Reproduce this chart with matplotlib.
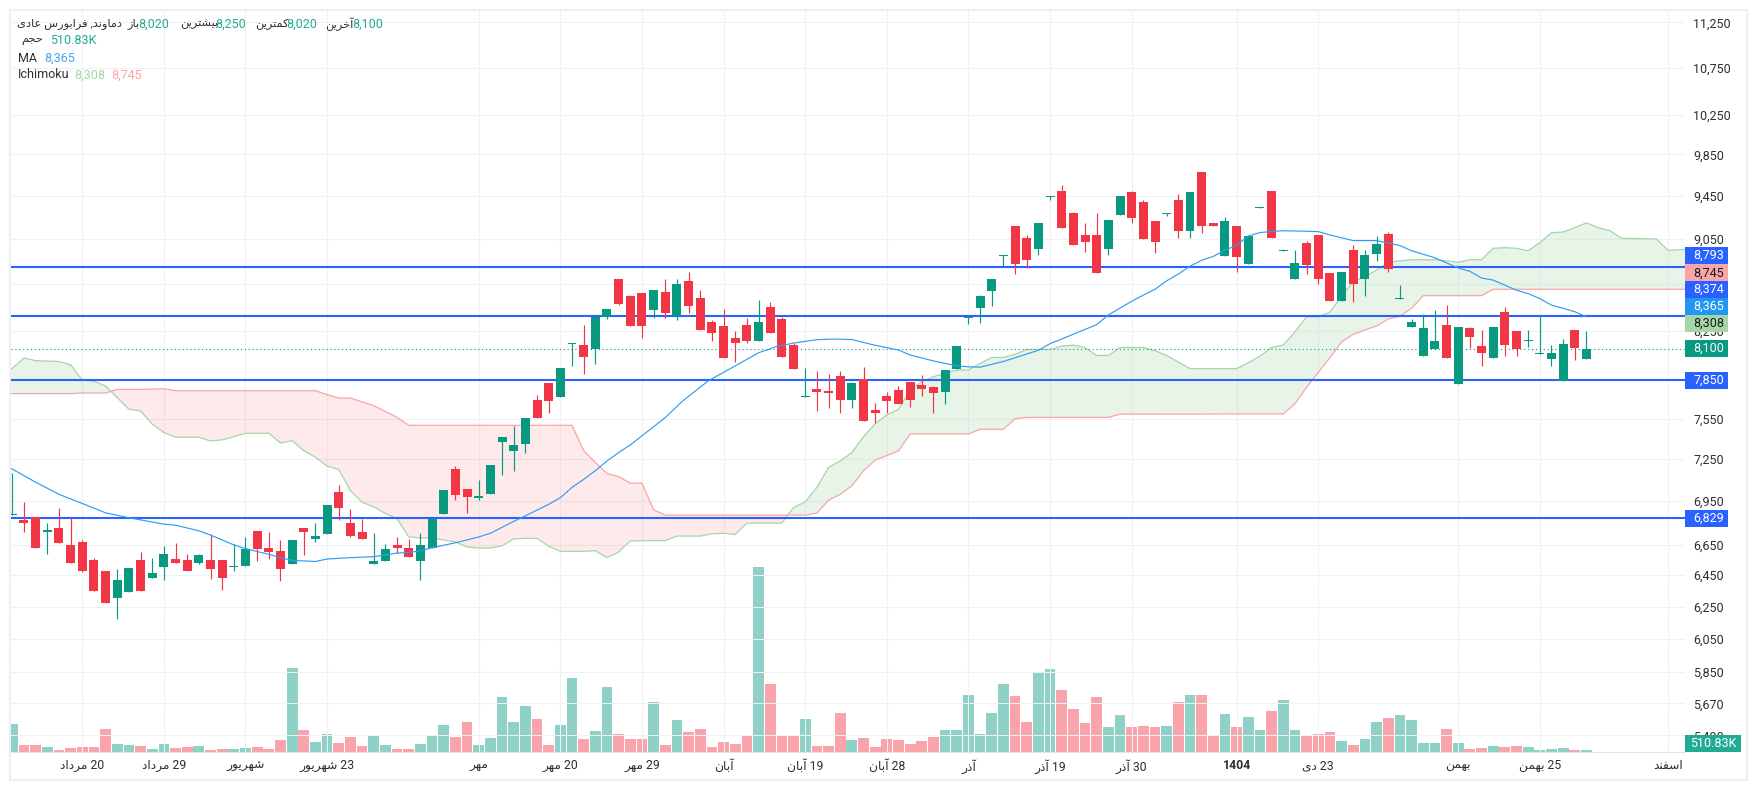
import numpy as np
import matplotlib
matplotlib.use("Agg")
import matplotlib.pyplot as plt
from matplotlib.patches import Rectangle

plt.rcParams['font.family'] = ['Roboto', 'DejaVu Sans']

W, H = 1757, 790

# candles, one row of values per list
op = [6850,6820,6840,6740,6765,6650,6670,6550,6480,6305,6345,6550,6430,6505,6555,6550,6530,6550,6550,6505,
      6510,6745,6630,6610,6525,6765,6690,6725,7010,6800,6740,6525,6545,6650,6630,6545,6630,6860,7178,7036,
      6970,7000,7377,7311,7362,7695,7828,7719,8140,8135,8101,8366,8686,8538,8570,8425,8580,8374,8674,8527,
      8323,8290,8190,8299,8160,8450,8350,8135,7720,7780,7765,7880,7695,7855,7617,7725,7770,7835,7810,7795,
      7755,7936,8354,8440,8585,8892,9163,9052,8953,9435,9495,9290,9080,9080,8953,9264,9486,9386,9215,9275,
      9410,9120,9680,9193,8890,9163,8820,9335,9495,8937,8690,9010,9080,8740,8500,8945,8690,8910,9090,8520,
      8280,8040,8100,8300,7820,8272,8122,8025,8405,8245,8160,8055,8015,7840,8255,8020]
hi = [7150,6940,6840,6800,6900,6830,6680,6560,6480,6490,6500,6600,6560,6640,6660,6590,6590,6720,6550,6655,
      6700,6745,6740,6680,6680,6765,6800,6920,7060,6895,6825,6730,6655,6700,6690,6730,6825,7030,7200,7036,
      7098,7207,7414,7496,7557,7735,7828,7947,8150,8300,8366,8433,8686,8547,8570,8590,8686,8686,8750,8590,
      8340,8433,8249,8357,8510,8493,8366,8150,7947,7922,7900,7920,7835,7955,7670,7755,7805,7835,7890,7805,
      7930,8120,8360,8547,8688,8898,9163,9080,9190,9444,9553,9300,9193,9290,9224,9444,9495,9405,9215,9290,
      9465,9486,9680,9193,9246,9163,9070,9345,9495,8953,8947,9030,9080,8740,8755,8990,8947,9075,9110,8640,
      8345,8385,8425,8465,8280,8280,8255,8280,8450,8245,8255,8380,8130,8180,8255,8250]
lo = [6850,6740,6630,6590,6665,6530,6470,6350,6275,6170,6340,6350,6430,6420,6530,6475,6520,6425,6355,6480,
      6510,6540,6555,6410,6520,6580,6670,6725,6820,6700,6690,6525,6540,6595,6570,6420,6630,6860,6958,6868,
      6958,7000,7134,7164,7296,7558,7596,7719,7960,7900,7980,8350,8467,8290,8190,8357,8357,8340,8400,8257,
      8160,8028,7990,8150,8160,8232,8035,7940,7720,7612,7635,7590,7630,7530,7520,7590,7665,7640,7725,7590,
      7665,7936,8304,8312,8460,8802,8731,8784,8900,9406,9150,8990,8926,8740,8900,9264,9195,9046,8920,9255,
      9060,9052,9105,9165,8890,8750,8820,9335,9060,8937,8690,8730,8650,8500,8500,8490,8540,8850,8750,8520,
      8280,8040,8100,8025,7820,8110,7960,8025,8040,8040,8115,8055,7960,7840,8010,8020]
cl = [6860,6800,6630,6745,6665,6530,6475,6350,6275,6420,6500,6350,6465,6590,6530,6475,6580,6490,6430,6510,
      6620,6625,6605,6490,6680,6740,6710,6920,6900,6710,6690,6540,6620,6630,6570,6650,6825,7030,6992,6980,
      6985,7207,7414,7354,7557,7558,7688,7947,8150,8030,8366,8433,8476,8290,8290,8590,8400,8650,8459,8257,
      8232,8028,8150,8160,8323,8232,8035,7940,7727,7757,7750,7695,7825,7530,7594,7685,7665,7695,7780,7750,
      7930,8120,8360,8538,8688,8898,8820,8855,9190,9444,9150,8990,9015,8740,9224,9444,9240,9046,9015,9290,
      9120,9486,9170,9165,9215,8880,9070,9345,9060,8945,8830,8810,8690,8500,8755,8650,8900,9000,8780,8525,
      8320,8272,8160,8025,8280,8195,8065,8280,8130,8100,8170,8065,8070,8140,8110,8100]

# volume in thousands
vol = [7140,1785,1785,1275,510,1020,1275,1275,5865,2040,1785,1530,765,2040,1020,1275,1530,510,765,765,
       1020,1275,765,3060,21420,5610,2550,4590,2295,3825,1530,4335,1785,765,765,2040,4335,6885,3825,7650,
       1785,3570,14025,7650,11730,8415,1785,6885,18870,3315,5355,16575,4590,3315,3315,12750,1785,8160,5100,5865,
       1275,2550,2040,4080,47260,17340,4080,4335,8415,1530,1530,9945,3060,3570,1275,3315,3060,2040,2805,3825,
       5610,5610,14535,4590,9945,17340,14280,7650,20145,21165,15810,10965,7395,14025,6375,9435,6375,6630,6375,6630,
       12750,14535,14535,4335,9690,6375,8925,5610,10455,13260,5610,4080,4590,5100,2805,1785,3315,7650,8670,9435,
       8160,2295,2295,5865,2295,765,1020,1530,1275,1530,1275,510,765,1020,510,510.83]

# moving average, vertices of the line
ma_x = [-1,0,2,4,6,8,10,13,14,16,17,19,20,22,23,24,26,27,29,31,33,34,35,36,38,40,41,43,44,46,47,48,49,50,51,52,53,54,56,
        57.5,59.7,62,64,65.6,67,69,70.5,72,74,76,77,79,81,82,83,85,88,89,91,93,94,96,97,98,99,100,101,102,103,104,105,
        106,107,108,109,111,112,113,115,117,119,120,122,124,125,126,127,129,130,131,132,133,134,135]
ma_y = [7205,7177,7083,6997,6933,6868,6834,6790,6783,6745,6716,6650,6625,6587,6565,6547,6540,6556,6565,6571,6595,6600,6610,6631,
        6664,6703,6728,6809,6847,6927,6973,7046,7103,7165,7236,7297,7354,7421,7559,
        7687,7844,7962,8068,8120,8147,8175,8180,8176,8129,8090,8050,8002,7962,7955,7952,7998,8088,8142,8220,8300,8381,8497,8550,8600,
        8674,8733,8802,8855,8890,8945,8990,9073,9105,9115,9122,9117,9114,9083,9032,9032,8987,8940,8877,8787,8757,8698,8680,8592,8563,
        8520,8464,8437,8408,8365]

# ichimoku lead A, vertices
a_x = [-1,0,1,2,4,5,6,7,8,8.46,10,11,12,13,14,16,17,18,20,22,23,24,25,26,27,28,29,30,31,32,33,34,35,36,37,38,39,40,41,42,43,44,45,46,47,49,
       50,51,52,53,56,57,59,60,61,62,63,66,66.5,67,68,69,70,71,72,73,74,75,76,77,78,79,80,81,82,83,84,85,86,87,89,90,91,92,93,94,95,97,98,99,
       101,105,106,107,108,109,110,111,112,113,114,115,116,117,118,119,120,122,123,124,125,126,127,128,129,130,131,132,133,134,135,136,137,138,
       141,142,143,144]
a_y = [7876,7942,8026,8004,7998,7971,7850,7840,7803,7761,7622,7610,7509,7446,7411,7411,7383,7391,7440,7440,7368,7385,7311,7263,7198,7174,7022,6942,6909,
       6863,6827,6704,6697,6697,6683,6670,6636,6629,6629,6644,6690,6694,6694,6641,6607,6607,6611,6565,6602,6677,6679,6709,6709,6724,6728,6720,6797,6797,
       6852,6905,6944,7046,7188,7236,7297,7414,7513,7578,7622,7771,7837,7876,7903,7929,7929,7982,8030,8030,8056,8095,8095,8122,8130,8111,8046,8046,8111,
       8111,8084,8046,7940,7940,7988,8042,8110,8131,8240,8365,8365,8405,8540,8667,8710,8768,8837,8850,8860,8860,8850,8837,8860,8860,8962,8968,8962,8940,
       9013,9104,9110,9151,9194,9151,9123,9053,9047,8943,8950,8956]

# ichimoku lead B, vertices
b_x = [-1,5,6,8,8.46,9,11,13,14,26,27,28,29,31,33,34,48,49,50,51,52,53,54,55,56,66.5,68,69,70,71,72,73,74,76,77,82,83,85,86,87,94,95,105,109,110,111,112,
       113,114,115,116,117,118,119,120,121,126,127,144]
b_y = [7743,7743,7748,7748,7761,7776,7776,7781,7766,7766,7735,7709,7709,7650,7561,7500,7500,7312,7225,7145,7123,7076,7076,6889,6852,6852,6852,6866,6956,
       6997,7057,7165,7241,7309,7435,7435,7470,7470,7550,7560,7560,7585,7586,7586,7665,7793,7910,8028,8157,8219,8255,8288,8346,8370,8437,8545,8545,8600,8600]

levels = [8793, 8374, 7850, 6829]
last_price = 8100

price_ticks = [11250,10750,10250,9850,9450,9050,8650,8250,7850,7550,7250,6950,6650,6450,6250,6050,5850,5670,5490]
# these two sit fully behind the price tags
hidden_ticks = [8650, 7850]

date_pos = [6,13,20,27,40,47,54,61,68,75,82,89,96,105,112,124,131,142]
date_days = ['20','29','','23','','20','29','','19','28','','19','30','1404','23','','25','']
date_months = ['مرداد','مرداد','شهریور','شهریور','مهر','مهر','مهر','آبان','آبان','آبان','آذر','آذر','آذر','','دی','بهمن','بهمن','اسفند']

# no text shaping in matplotlib, so pick the presentation forms by hand
forms = {'ا':'\uFE8D\uFE8E','آ':'\uFE81\uFE82','د':'\uFEA9\uFEAA','ذ':'\uFEAB\uFEAC','ر':'\uFEAD\uFEAE','ز':'\uFEAF\uFEB0','و':'\uFEED\uFEEE',
         'ب':'\uFE8F\uFE90\uFE91\uFE92','ت':'\uFE95\uFE96\uFE97\uFE98','ج':'\uFE9D\uFE9E\uFE9F\uFEA0','ح':'\uFEA1\uFEA2\uFEA3\uFEA4',
         'خ':'\uFEA5\uFEA6\uFEA7\uFEA8','س':'\uFEB1\uFEB2\uFEB3\uFEB4','ش':'\uFEB5\uFEB6\uFEB7\uFEB8','ع':'\uFEC9\uFECA\uFECB\uFECC',
         'ف':'\uFED1\uFED2\uFED3\uFED4','ک':'\uFB8E\uFB8F\uFB90\uFB91','م':'\uFEE1\uFEE2\uFEE3\uFEE4','ن':'\uFEE5\uFEE6\uFEE7\uFEE8',
         'ه':'\uFEE9\uFEEA\uFEEB\uFEEC','ی':'\uFBFC\uFBFD\uFBFE\uFBFF'}

def fa(s):
    out = []
    for i, c in enumerate(s):
        if c not in forms:
            out.append(c)
            continue
        prev = s[i-1] if i > 0 else ''
        nxt = s[i+1] if i < len(s)-1 else ''
        join_prev = prev in forms and len(forms[prev]) == 4
        join_next = nxt in forms and len(forms[c]) == 4
        f = forms[c]
        if join_prev and join_next:
            out.append(f[3])
        elif join_next:
            out.append(f[2])
        elif join_prev:
            out.append(f[1])
        else:
            out.append(f[0])
    return ''.join(out[::-1])

green = '#089981'
red = '#F23645'
blue = '#2962FF'
ma_col = '#2F9DF4'
a_col = '#A5D6A7'
b_col = '#F7A5A8'
txt = '#2E2E33'
grid = '#F0F1F5'

x = np.arange(len(op))
op, hi, lo, cl = map(np.array, (op, hi, lo, cl))
up = cl >= op
colors = np.where(up, green, red)

fig = plt.figure(figsize=(W/100, H/100), dpi=100, facecolor='white')
rect = [11/W, 1-752/H, (1685-11)/W, (752-11)/H]
ax = fig.add_axes(rect)
vax = fig.add_axes(rect, sharex=ax)
ax.set_zorder(2)
vax.set_zorder(1)
ax.patch.set_visible(False)

# volume
vax.bar(x, vol, width=0.92, color=colors, alpha=0.45, linewidth=0)
vax.set_ylim(0, 741*255)
vax.set_yticks([])
vax.tick_params(length=0, labelbottom=False)
for s in vax.spines.values():
    s.set_visible(False)

ax.set_yscale('log')
ax.set_xlim(-0.11, 143.45)
ax.set_ylim(5399, 11379)

# ichimoku cloud
a_x, a_y, b_x, b_y = map(np.array, (a_x, a_y, b_x, b_y))
for x0, x1, col, al in [(-1, 8.46, '#A5D6A7', 0.25), (8.46, 66.5, '#F7525F', 0.12), (66.5, 144, '#A5D6A7', 0.25)]:
    ma_ = (a_x >= x0) & (a_x <= x1)
    mb_ = (b_x >= x0) & (b_x <= x1)
    ax.fill(np.r_[a_x[ma_], b_x[mb_][::-1]], np.r_[a_y[ma_], b_y[mb_][::-1]], color=col, alpha=al, linewidth=0, zorder=1)
ax.plot(a_x, a_y, color=a_col, lw=0.9, zorder=2)
ax.plot(b_x, b_y, color=b_col, lw=0.9, zorder=2)

# support lines and last price
for lv in levels:
    ax.axhline(lv, color=blue, lw=1.5, zorder=3)
ax.axhline(last_price, color=green, lw=0.8, ls=(0, (1, 2.5)), zorder=3)

# candles
ax.vlines(x, lo, hi, colors=colors, lw=0.85, zorder=4)
ax.bar(x, np.maximum(np.abs(cl-op), 8), bottom=np.minimum(op, cl), width=0.77, color=colors, linewidth=0, zorder=5)

ax.plot(ma_x, ma_y, color=ma_col, lw=0.85, zorder=6)

# axes
ax.minorticks_off()
ax.set_yticks(price_ticks, labels=['' if t in hidden_ticks else f'{t:,}' for t in price_ticks])
ax.yaxis.tick_right()
ax.minorticks_off()
labels = []
for d, m in zip(date_days, date_months):
    labels.append((fa(m) + ' ' + d).strip())
ax.set_xticks(date_pos, labels=labels)
ax.tick_params(axis='y', length=0, pad=5.8, labelsize=9, labelcolor=txt)
ax.tick_params(axis='x', length=0, pad=5, labelsize=8.8, labelcolor=txt)
ax.get_xticklabels()[date_days.index('1404')].set_fontweight('bold')
ax.grid(True, color=grid, lw=0.75, zorder=0)
ax.set_axisbelow(True)
for s in ['top', 'left', 'right']:
    ax.spines[s].set_visible(False)
ax.spines['bottom'].set_color('#E4E4EC')
ax.spines['bottom'].set_linewidth(0.75)

# outer frame
fig.add_artist(Rectangle((10/W, 1-780/H), (1747-10)/W, (780-10)/H, transform=fig.transFigure, fill=False,
                         edgecolor='#EEEEF3', lw=1.5, zorder=1))

def put(px, py, s, col=txt, ha='left', size=9, **kw):
    fig.text(px/W, 1-py/H, s, color=col, ha=ha, va='center', fontsize=size, zorder=11, **kw)

# price tags on the right
tags = [(255.3, '8,793', blue, 'white'), (272.8, '8,745', '#F6A5A8', '#1a1a1a'), (289.7, '8,374', blue, 'white'),
        (306.5, '8,365', '#2196F3', 'white'), (323.5, '8,308', '#A5D6A7', '#1a1a1a'), (348.3, '8,100', green, 'white'),
        (380.3, '7,850', blue, 'white'), (518, '6,829', blue, 'white')]
for py, s, bg, fg in tags:
    fig.add_artist(Rectangle((1685/W, 1-(py+8.5)/H), 43/W, 17/H, transform=fig.transFigure, facecolor=bg, edgecolor='none', zorder=10))
    put(1693, py, s, col=fg)
fig.add_artist(Rectangle((1685/W, 1-752/H), 56/W, 17/H, transform=fig.transFigure, facecolor='#22AB94', edgecolor='none', zorder=10))
put(1690, 743.5, '510.83K', col='white')

# legend top left
val_col = '#22AB94'
put(383, 24, '8,100', col=val_col, ha='right')
put(354, 24, fa('آخرین'), ha='right', size=8.2)
put(317, 24, '8,020', col=val_col, ha='right')
put(289, 24, fa('کمترین'), ha='right', size=8.2)
put(246, 24, '8,250', col=val_col, ha='right')
put(218, 24, fa('بیشترین'), ha='right', size=8.2)
put(169, 24, '8,020', col=val_col, ha='right')
put(140, 24, fa('باز'), ha='right', size=8.2)
put(122, 24, fa('دماوند, فرابورس عادی'), ha='right', size=8.2)
put(43, 41, fa('حجم'), ha='right', size=8.2)
put(50, 41, '510.83K', col=val_col)
put(18, 58, 'MA')
put(44, 58, '8,365', col='#42A5F5')
put(18, 75, 'Ichimoku')
put(74, 75, '8,308', col=a_col)
put(111, 75, '8,745', col='#F7A5A8')

fig.savefig('out.png', dpi=100, facecolor='white')
